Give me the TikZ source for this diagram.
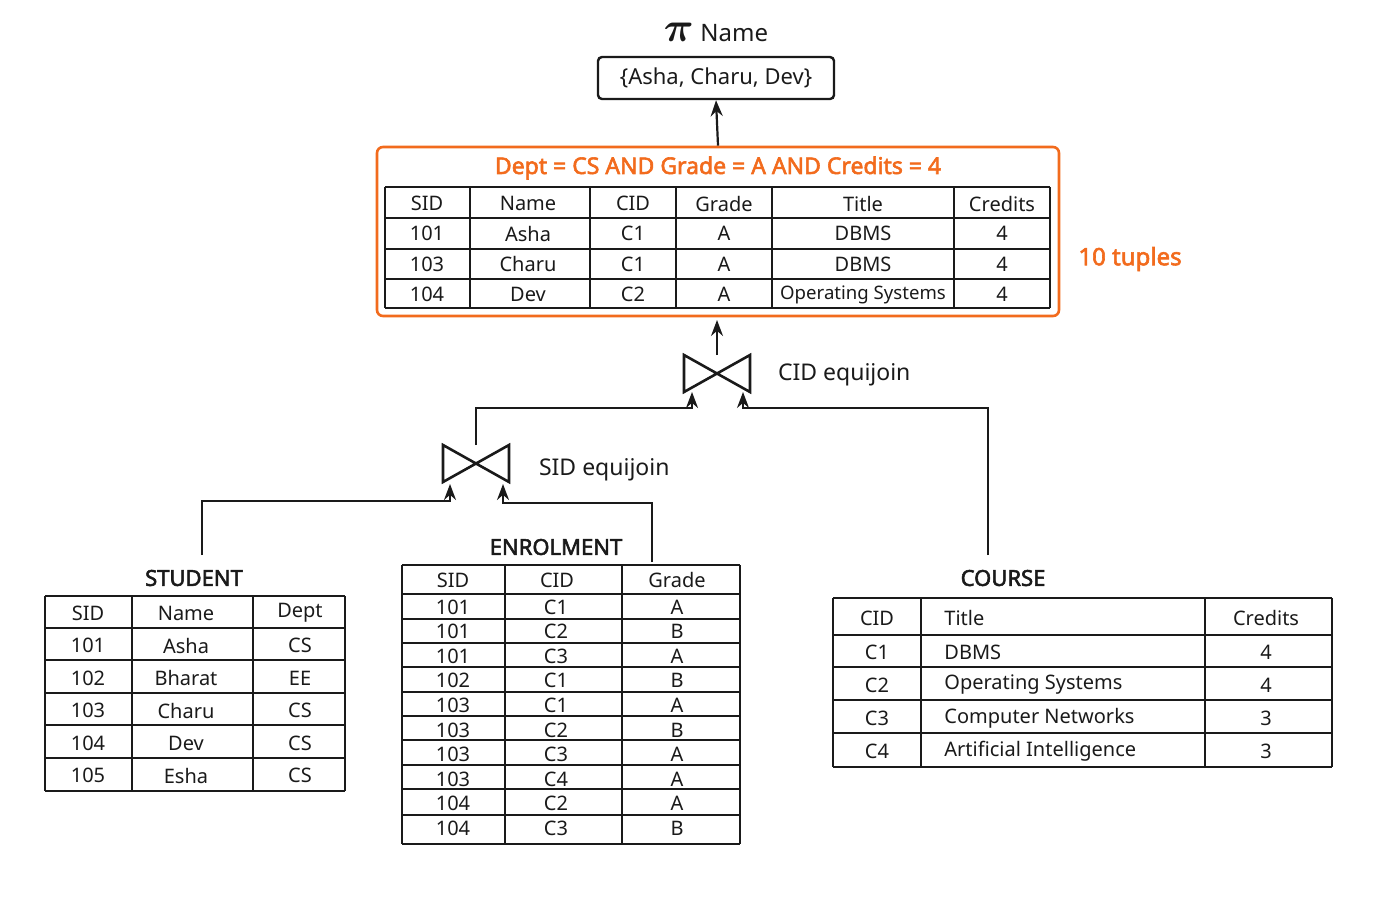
\documentclass[tikz,border=0pt]{standalone}
\usepackage{amsmath,amssymb,bm}
\usepackage{fontspec}
\setmainfont{Noto Sans}[BoldFont={Noto Sans},BoldFeatures={FakeBold=2.5}]
\usetikzlibrary{arrows.meta}
\definecolor{org}{HTML}{F26B1D}
\definecolor{ink}{HTML}{1A1A1A}
\begin{document}
\begin{tikzpicture}[x=0.5pt,y=-0.5pt,
  tbl/.style={draw=ink,line width=1pt},
  cell/.style={font=\fontsize{10}{12}\selectfont,text=ink,inner sep=0pt},
  ttl/.style={font=\fontsize{11}{13}\selectfont\bfseries,text=ink},
  lbl/.style={font=\fontsize{11.5}{14}\selectfont,text=ink,anchor=west},
  conn/.style={draw=ink,line width=1.1pt},
  arr/.style={conn,-{Stealth[length=8pt,width=6pt]}}]
\useasboundingbox (0,0) rectangle (1400,900);
\newcommand\hlines[3]{\foreach \yy in {#3}{\draw[tbl] (#1,\yy)--(#2,\yy);}}
\newcommand\vlines[3]{\foreach \xx in {#3}{\draw[tbl] (\xx,#1)--(\xx,#2);}}
% ---------- top ----------
\node[text=ink] (pi) at (716,32) {\fontsize{20}{20}\selectfont$\bm{\pi}$\,\fontsize{12}{14}\selectfont Name};
\node[draw=ink,line width=1.2pt,rounded corners=2pt,minimum width=118pt,minimum height=21pt,font=\fontsize{11}{13}\selectfont,text=ink] (res) at (716,78) {\{Asha, Charu, Dev\}};
\node[draw=org,line width=1.3pt,rounded corners=3pt,minimum width=341pt,minimum height=84.5pt] (sel) at (718,231.5) {};
\node[font=\fontsize{11.5}{14}\selectfont\bfseries,text=org] (cond) at (718,168) {Dept = CS AND Grade = A AND Credits = 4};
\node[font=\fontsize{12}{14}\selectfont\bfseries,text=org] (tup) at (1130,259) {10 tuples};
\draw[arr] (sel.north) -- (res.south);
\hlines{385}{1050}{187,218,249,279,308}
\vlines{187}{308}{385,470,590,676,772,954,1050}
\foreach \a/\b/\c/\d/\e/\f [count=\r] in {SID/Name/CID/Grade/Title/Credits,101/Asha/C1/A/DBMS/4,103/Charu/C1/A/DBMS/4,104/Dev/C2/A/{\fontsize{9.3}{11}\selectfont Operating Systems}/4}{
  \pgfmathsetmacro\yy{203.5+30.3*(\r-1)}
  \node[cell] at (427,\yy) {\a};\node[cell] at (528,\yy) {\b};
  \node[cell] at (633,\yy) {\c};\node[cell] at (724,\yy) {\d};
  \node[cell] at (863,\yy) {\e};\node[cell] at (1002,\yy) {\f};}
% ---------- joins ----------
\coordinate (cj) at (717,373);
\draw[conn,line width=1.3pt] (684,355)--(750,392)--(750,355)--(684,392)--cycle;
\node[lbl] (cjl) at (771,375) {CID equijoin};
\coordinate (cjt) at (717,355);
\draw[arr] (cjt) -- (717,320);
\coordinate (sj) at (476,463);
\draw[conn,line width=1.3pt] (443,445)--(509,482)--(509,445)--(443,482)--cycle;
\node[lbl] (sjl) at (532,470) {SID equijoin};
\coordinate (sjt) at (476,445);
\coordinate (cjL) at (692,392);
\coordinate (cjR) at (743,392);
\draw[arr] (sjt) |- (692,408) -- (cjL);
\coordinate (crs) at (988,555);
\draw[arr] (crs) |- (743,408) -- (cjR);
\coordinate (stu) at (202,555);
\coordinate (enr) at (652,562);
\draw[arr] (stu) |- (450,501) -- (450,484);
\draw[arr] (enr) |- (503,503) -- (503,484);
% ---------- STUDENT ----------
\node[ttl] (st) at (194,578) {STUDENT};
\hlines{45}{345}{596,628,660,693,725,758,791}
\vlines{596}{791}{45,132,253,345}
\foreach \a/\b/\c [count=\r] in {SID/Name/Dept,101/Asha/CS,102/Bharat/EE,103/Charu/CS,104/Dev/CS,105/Esha/CS}{
  \pgfmathsetmacro\yy{613+32.5*(\r-1)}
  \node[cell] at (88,\yy) {\a};\node[cell] at (186,\yy) {\b};\node[cell] at (300,\yy) {\c};}
% ---------- ENROLMENT ----------
\node[ttl] (en) at (556,547) {ENROLMENT};
\hlines{402}{740}{565,594,619,643,667,692,716,740,765,789,815,844}
\vlines{565}{844}{402,505,622,740}
\node[cell] at (453,580) {SID};\node[cell] at (557,580) {CID};\node[cell] at (677,580) {Grade};
\foreach \a/\b/\c [count=\r] in {101/C1/A,101/C2/B,101/C3/A,102/C1/B,103/C1/A,103/C2/B,103/C3/A,103/C4/A,104/C2/A,104/C3/B}{
  \pgfmathsetmacro\yy{607+24.6*(\r-1)}
  \node[cell] at (453,\yy) {\a};\node[cell] at (556,\yy) {\b};\node[cell] at (677,\yy) {\c};}
% ---------- COURSE ----------
\node[ttl] (co) at (1003,578) {COURSE};
\hlines{833}{1332}{598,635,667,700,733,767}
\vlines{598}{767}{833,921,1205,1332}
\foreach \a/\b/\c [count=\r] in {CID/Title/Credits,C1/DBMS/4,C2/Operating Systems/4,C3/Computer Networks/3,C4/Artificial Intelligence/3}{
  \pgfmathsetmacro\yy{\r==1?618:652+33*(\r-2)}
  \node[cell] at (877,\yy) {\a};\node[cell,anchor=west] at (944,\yy) {\b};\node[cell] at (1266,\yy) {\c};}
\end{tikzpicture}
\end{document}
